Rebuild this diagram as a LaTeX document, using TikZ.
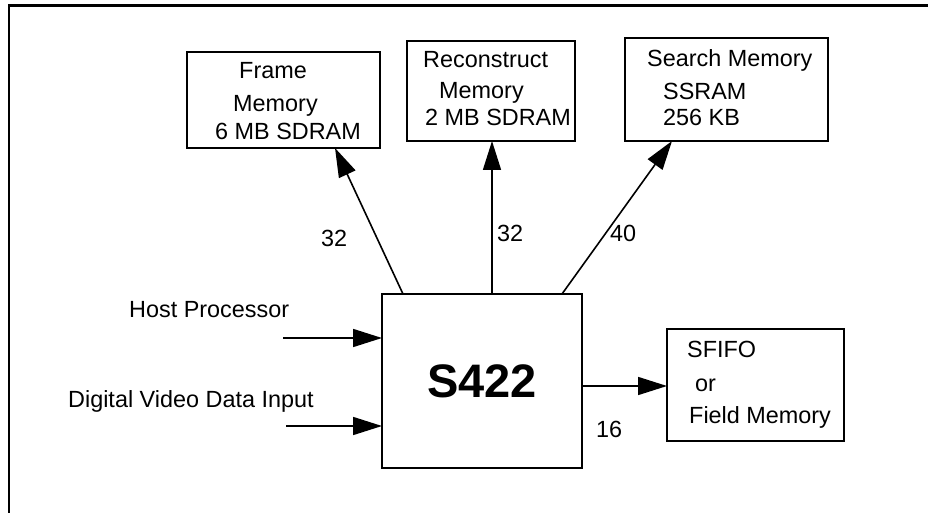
\documentclass[tikz,border=0pt]{standalone}
\usepackage{fontspec}
\setmainfont{Liberation Sans}
\usetikzlibrary{arrows.meta}
\begin{document}
\begin{tikzpicture}[x=1bp,y=-1bp,
  box/.style={draw, line width=1.6bp, inner sep=0pt, outer sep=0pt},
  txt/.style={anchor=base west, inner sep=0pt, font=\fontsize{23.4bp}{28bp}\selectfont},
  arr/.style={line width=1.6bp, -{Triangle[length=29bp,width=18bp]}}]
\useasboundingbox (0,0) rectangle (928,513);
% outer frame (top and left edges only)
\draw[line width=2.6bp] (9,513) -- (9,5.5) -- (928,5.5);

% memory blocks
\node[box, minimum width=193bp, minimum height=96bp] (fm) at (283.5,100) {};
\node[box, minimum width=168bp, minimum height=100bp] (rm) at (491,91) {};
\node[box, minimum width=203bp, minimum height=103bp] (sm) at (726.5,89.5) {};
\node[box, minimum width=177bp, minimum height=112bp] (sf) at (755.5,385) {};
\node[box, minimum width=200bp, minimum height=174bp] (s) at (482,381)
  {\fontsize{47bp}{50bp}\selectfont\bfseries S422};

% texts inside the blocks
\node[txt] (fm1) at (239,79) {Frame};
\node[txt] (fm2) at (233,112) {Memory};
\node[txt] (fm3) at (215,140) {6 MB SDRAM};
\node[txt] (rm1) at (423,68) {Reconstruct};
\node[txt] (rm2) at (439,99) {Memory};
\node[txt] (rm3) at (425,126) {2 MB SDRAM};
\node[txt] (sm1) at (647,67) {Search Memory};
\node[txt] (sm2) at (663,100) {SSRAM};
\node[txt] (sm3) at (663,126) {256 KB};
\node[txt] (sf1) at (687,358) {SFIFO};
\node[txt] (sf2) at (695,391) {or};
\node[txt] (sf3) at (689,423) {Field Memory};

% input labels
\node[txt] (hp) at (129,318) {Host Processor};
\node[txt] (dv) at (68,407) {Digital Video Data Input};

% bus widths
\node[txt] (w1) at (321,247) {32};
\node[txt] (w2) at (497,242) {32};
\node[txt] (w3) at (610,242) {40};
\node[txt] (w4) at (596,437) {16};

% connector end points
\coordinate (a1) at (403,294);
\coordinate (b1) at (335,148);
\coordinate (a2) at (492,294);
\coordinate (b2) at (492,141);
\coordinate (a3) at (562,294);
\coordinate (b3) at (672,141);
\coordinate (h1) at (283,338);
\coordinate (d1) at (286,426);
\coordinate (o1) at (582,386);

\draw[arr] (a1) -- (b1);
\draw[arr] (a2) -- (b2);
\draw[arr] (a3) -- (b3);
\draw[arr] (h1) -- (h1 -| s.west);
\draw[arr] (d1) -- (d1 -| s.west);
\draw[arr] (o1) -- (o1 -| sf.west);
\end{tikzpicture}
\end{document}
